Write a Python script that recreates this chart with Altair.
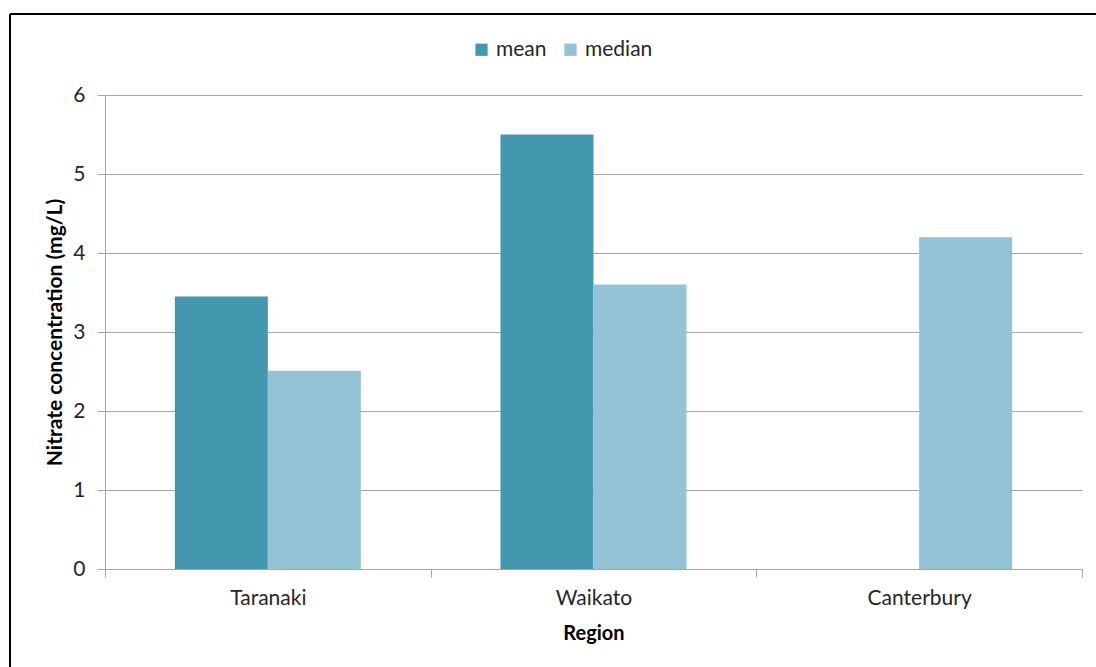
import altair as alt
import pandas as pd

# Nitrate concentration by region (mg/L)
regions = ["Taranaki", "Waikato", "Canterbury"]
mean_values = [3.45, 5.5, None]      # no mean reported for Canterbury
median_values = [2.51, 3.6, 4.2]
stats = ["mean", "median"]
colors = ["#4398B0", "#93C3D4"]

rows = []
for region, m, md in zip(regions, mean_values, median_values):
    if m is not None:
        rows.append({"Region": region, "stat": "mean", "value": m})
    if md is not None:
        rows.append({"Region": region, "stat": "median", "value": md})
df = pd.DataFrame(rows)

FONT = "Lato"
GRID = "#A6A6A6"
FS = 21

bars = alt.Chart(df).mark_bar().encode(
    x=alt.X(
        "Region:N",
        sort=regions,
        scale=alt.Scale(paddingInner=0, paddingOuter=0),
        axis=alt.Axis(
            title="Region",
            labelAngle=0,
            tickBand="extent",
            tickSize=8,
            tickColor=GRID,
            domainColor=GRID,
            labelFont=FONT,
            labelFontSize=FS,
            labelColor="#262626",
            labelPadding=10,
            titleFont=FONT,
            titleFontSize=FS - 1,
            titleFontWeight="bold",
            titleColor="#000000",
            titlePadding=15,
            grid=False,
        ),
    ),
    xOffset=alt.XOffset(
        "stat:N",
        sort=stats,
        scale=alt.Scale(paddingInner=0, paddingOuter=0.751),
    ),
    y=alt.Y(
        "value:Q",
        scale=alt.Scale(domain=[0, 6]),
        axis=alt.Axis(
            title="Nitrate concentration (mg/L)",
            values=[0, 1, 2, 3, 4, 5, 6],
            format="d",
            tickSize=8,
            tickColor=GRID,
            domainColor=GRID,
            gridColor=GRID,
            labelFont=FONT,
            labelFontSize=FS,
            labelColor="#262626",
            labelPadding=12,
            titleFont=FONT,
            titleFontSize=FS,
            titleFontWeight="bold",
            titleColor="#000000",
            titlePadding=7,
        ),
    ),
    color=alt.Color(
        "stat:N",
        sort=stats,
        scale=alt.Scale(domain=stats, range=colors),
        legend=alt.Legend(
            title=None,
            orient="none",
            direction="horizontal",
            legendX=366,
            legendY=-56,
            symbolType="square",
            symbolSize=150,
            symbolStrokeWidth=0,
            labelFont=FONT,
            labelFontSize=FS,
            labelColor="#262626",
            columnPadding=13,
        ),
    ),
)

# outer frame around the chart (top and left edges)
frame_df = pd.DataFrame({"k": [0]})
frame_top = alt.Chart(frame_df).mark_rule(color="#000000", strokeWidth=2).encode(
    x=alt.value(-95), x2=alt.value(1000), y=alt.value(-81)
)
frame_left = alt.Chart(frame_df).mark_rule(color="#000000", strokeWidth=2).encode(
    x=alt.value(-95), y=alt.value(-81), y2=alt.value(600)
)

chart = alt.layer(bars, frame_top, frame_left).properties(
    width=977,
    height=474,
    autosize=alt.AutoSizeParams(type="none"),
    padding={"left": 105, "top": 95, "right": 14, "bottom": 98},
    background="#FFFFFF",
).configure_view(stroke=None)

chart.save("out.html", embed_options={"renderer": "svg", "actions": False})
